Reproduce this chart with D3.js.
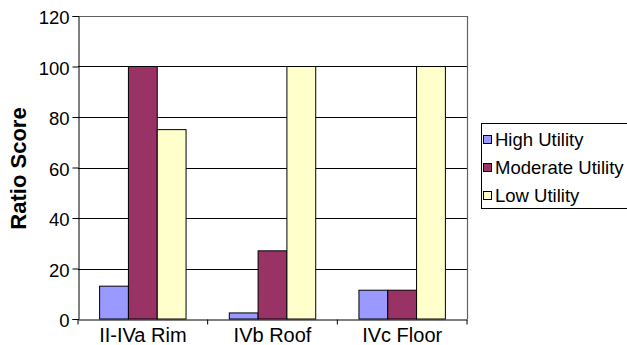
<!DOCTYPE html>
<html>
<head>
<meta charset="utf-8">
<script src="https://cdn.jsdelivr.net/npm/d3@7"></script>
<style>
  html, body { margin: 0; padding: 0; background: #fff; }
  svg { display: block; }
  svg text { font-family: "Liberation Sans", Arial, Helvetica, sans-serif; }
</style>
</head>
<body>
<svg id="chart" width="627" height="345"></svg>
<script>
// Categories and series
const categories = ["II-IVa Rim", "IVb Roof", "IVc Floor"];
const seriesNames = ["High Utility", "Moderate Utility", "Low Utility"];
const highUtility = [13, 2.4, 11.4];
const moderateUtility = [100, 27, 11.4];
const lowUtility = [75, 100, 100];
const seriesColors = ["#9999FF", "#993366", "#FFFFCC"];
const yTicks = [0, 20, 40, 60, 80, 100, 120];

const seriesValues = [highUtility, moderateUtility, lowUtility];
const FONT = "Liberation Sans, Arial, sans-serif";

const svg = d3.select("#chart");
const plot = { left: 78, top: 16, right: 467, bottom: 319 };

const x0 = d3.scaleBand()
  .domain(categories)
  .range([plot.left, plot.right])
  .paddingInner(0)
  .paddingOuter(0);

// bars take 3/4.5 of each category slot (gap width 150%)
const groupWidth = x0.bandwidth() * 3 / 4.5;
const x1 = d3.scaleBand()
  .domain(seriesNames)
  .range([0, groupWidth]);

const y = d3.scaleLinear().domain([0, 120]).range([plot.bottom, plot.top]);

// gridlines
svg.append("g")
  .selectAll("line")
  .data(yTicks.filter(t => t > 0 && t < 120))
  .join("line")
  .attr("x1", plot.left).attr("x2", plot.right)
  .attr("y1", d => Math.round(y(d)) + 0.5).attr("y2", d => Math.round(y(d)) + 0.5)
  .attr("stroke", "#000").attr("stroke-width", 1);

// plot area border (top and right)
svg.append("path")
  .attr("d", `M${plot.left},${plot.top + 0.5}H${plot.right + 0.5}V${plot.bottom}`)
  .attr("fill", "none").attr("stroke", "#606060").attr("stroke-width", 1.2);

// bars
const groups = svg.append("g")
  .selectAll("g")
  .data(categories)
  .join("g")
  .attr("transform", d => `translate(${x0(d) + (x0.bandwidth() - groupWidth) / 2},0)`);

groups.selectAll("rect")
  .data((c, i) => seriesNames.map((s, j) => ({ s, v: seriesValues[j][i], j })))
  .join("rect")
  .attr("x", d => x1(d.s))
  .attr("width", x1.bandwidth())
  .attr("y", d => y(d.v))
  .attr("height", d => y(0) - y(d.v))
  .attr("fill", d => seriesColors[d.j])
  .attr("stroke", "#000").attr("stroke-width", 1);

// y axis
const yAxis = svg.append("g")
  .attr("transform", `translate(${plot.left + 0.5},0)`)
  .call(d3.axisLeft(y).tickValues(yTicks).tickSize(6).tickPadding(3))
  .attr("font-family", FONT).attr("font-size", 18.5);
yAxis.selectAll("text").attr("fill", "#000").attr("dy", "0.42em");
yAxis.select(".domain").attr("stroke", "#000");
yAxis.selectAll(".tick line").attr("stroke", "#000");

// x axis
const xAxis = svg.append("g")
  .attr("transform", `translate(0,${plot.bottom + 0.5})`)
  .call(d3.axisBottom(x0).tickSize(0))
  .attr("font-family", FONT).attr("font-size", 20);
xAxis.selectAll("text").attr("fill", "#000").attr("y", 22).attr("dy", 0);
xAxis.select(".domain").attr("stroke", "#000");
// category separators
xAxis.selectAll("line.sep")
  .data([0, 1, 2, 3])
  .join("line")
  .attr("class", "sep")
  .attr("x1", i => plot.left + i * x0.bandwidth())
  .attr("x2", i => plot.left + i * x0.bandwidth())
  .attr("y1", 0).attr("y2", 5)
  .attr("stroke", "#000");

// y axis title
svg.append("text")
  .attr("transform", `translate(26,${(plot.top + plot.bottom) / 2 + 1}) rotate(-90)`)
  .attr("text-anchor", "middle")
  .attr("font-family", FONT)
  .attr("font-size", 22)
  .attr("font-weight", "bold")
  .text("Ratio Score");

// legend
const legend = svg.append("g").attr("transform", "translate(481,123)");
legend.append("rect")
  .attr("x", 0.5).attr("y", 0.5)
  .attr("width", 160).attr("height", 85)
  .attr("fill", "#fff").attr("stroke", "#000");
const items = legend.selectAll("g.item")
  .data(seriesNames)
  .join("g")
  .attr("class", "item")
  .attr("transform", (d, i) => `translate(0,${16 + i * 28})`);
items.append("rect")
  .attr("x", 2.5).attr("y", -3.5)
  .attr("width", 8).attr("height", 8)
  .attr("fill", (d, i) => seriesColors[i])
  .attr("stroke", "#000");
items.append("text")
  .attr("x", 14).attr("y", 6.5)
  .attr("font-family", FONT)
  .attr("font-size", 18.5)
  .text(d => d);
</script>
</body>
</html>
